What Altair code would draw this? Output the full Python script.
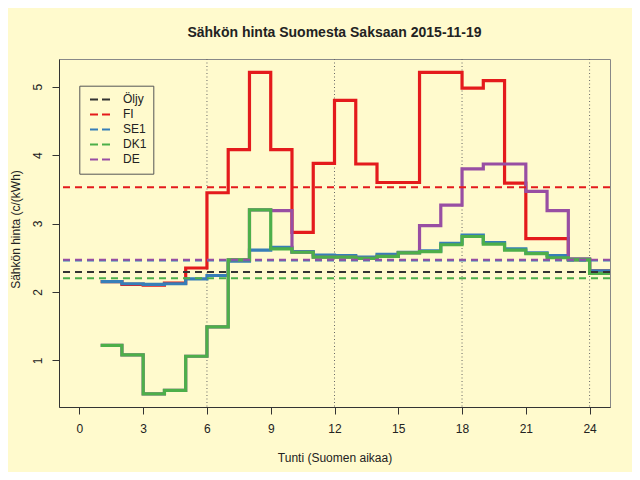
import altair as alt
import pandas as pd

# ---- data ----
hours = list(range(1, 25))
fi = [2.15, 2.11, 2.10, 2.13, 2.35, 3.45, 4.08, 5.21, 4.08, 2.87, 3.88, 4.80,
      3.87, 3.60, 3.60, 5.21, 5.21, 4.98, 5.09, 3.59, 2.78, 2.78, 2.48, 2.31]
se1 = [2.15, 2.12, 2.11, 2.12, 2.19, 2.24, 2.45, 2.61, 2.65, 2.59, 2.54, 2.53,
       2.51, 2.55, 2.58, 2.60, 2.71, 2.83, 2.72, 2.63, 2.57, 2.53, 2.48, 2.31]
dk1 = [1.22, 1.08, 0.51, 0.56, 1.06, 1.49, 2.47, 3.20, 2.63, 2.58, 2.51, 2.51,
       2.49, 2.52, 2.57, 2.59, 2.69, 2.81, 2.70, 2.61, 2.56, 2.50, 2.47, 2.27]
de = [1.22, 1.08, 0.51, 0.56, 1.06, 1.49, 2.47, 3.20, 3.19, 2.58, 2.51, 2.51,
      2.49, 2.52, 2.57, 2.97, 3.27, 3.80, 3.87, 3.87, 3.47, 3.19, 2.47, 2.27]

series_names = ["Öljy", "FI", "SE1", "DK1", "DE"]
series_colors = ["#333333", "#E41A1C", "#377EB8", "#4DAF4A", "#984EA3"]
mean_values = [2.29, 3.53, 2.46, 2.20, 2.47]

grid_hours = [6, 12, 18, 24]
x_ticks = [0, 3, 6, 9, 12, 15, 18, 21, 24]
y_ticks = [1, 2, 3, 4, 5]

title_text = "Sähkön hinta Suomesta Saksaan 2015-11-19"
x_title = "Tunti (Suomen aikaa)"
y_title = "Sähkön hinta (c/(kWh)"

# ---- tables ----
step_series = {"FI": fi, "SE1": se1, "DK1": dk1, "DE": de}
rows = []
for name, vals in step_series.items():
    for h, v in zip(hours + [hours[-1] + 1], vals + [vals[-1]]):
        rows.append({"hour": h, "price": v, "series": name})
steps = pd.DataFrame(rows)
means = pd.DataFrame({"series": series_names, "mean": mean_values})
grid = pd.DataFrame({"hour": grid_hours})

FONT = "Liberation Sans"
xscale = alt.Scale(domain=[-0.96, 24.96], nice=False, zero=False)
yscale = alt.Scale(domain=[0.318, 5.405], nice=False, zero=False)

x_axis = alt.Axis(values=x_ticks, title=x_title, tickSize=7, labelPadding=18,
                  labelBaseline="alphabetic", titleBaseline="alphabetic",
                  titleY=54, grid=False)
y_axis = alt.Axis(values=y_ticks, title=y_title, tickSize=7, labelPadding=10.5,
                  labelAngle=-90, labelAlign="center", labelBaseline="alphabetic",
                  titleBaseline="top", titleX=-49, titleY=170, grid=False)

vlines = alt.Chart(grid).mark_rule(color="#666666", strokeWidth=1, strokeDash=[1, 2.5]).encode(
    x=alt.X("hour:Q", scale=xscale, axis=x_axis)
)

color_of = dict(zip(series_names, series_colors))
draw_order = ["FI", "SE1", "DE", "DK1"]
step_layers = []
for name in draw_order:
    step_layers.append(
        alt.Chart(steps).transform_filter(alt.datum.series == name)
        .mark_line(interpolate="step-after", strokeWidth=3.2, clip=True,
                   color=color_of[name])
        .encode(x=alt.X("hour:Q", scale=xscale, axis=x_axis),
                y=alt.Y("price:Q", scale=yscale, axis=y_axis))
    )

mean_rules = alt.Chart(means).mark_rule(strokeWidth=2, strokeDash=[7, 5]).encode(
    y=alt.Y("mean:Q", scale=yscale, axis=y_axis),
    color=alt.Color("series:N",
                    scale=alt.Scale(domain=series_names, range=series_colors),
                    legend=alt.Legend(title=None, orient="none", legendX=20.3, legendY=26.7,
                                      direction="vertical", symbolType="stroke",
                                      symbolSize=400, symbolStrokeWidth=2,
                                      symbolDash=[8, 4], labelFont=FONT, labelFontSize=12,
                                      labelColor="#222222", labelOffset=12,
                                      padding=6.5, symbolOffset=3.2, rowPadding=0,
                                      clipHeight=14.4,
                                      strokeColor="#555555", fillColor="#FFFACD")),
)

chart = alt.layer(vlines, *step_layers, mean_rules).properties(
    width=551, height=348,
    padding={"left": 51, "top": 51, "right": 22, "bottom": 65},
    autosize=alt.AutoSizeParams(type="none"),
    background="#FFFACD",
    title=alt.TitleParams(title_text, font=FONT, fontSize=14, fontWeight="bold",
                          color="#222222", anchor="middle", frame="group",
                          baseline="alphabetic", offset=8),
).configure_view(stroke="#888888", strokeWidth=1).configure_axis(
    domainColor="#333333", tickColor="#333333", labelColor="#222222",
    titleColor="#222222", labelFont=FONT, titleFont=FONT, labelFontSize=12,
    titleFontSize=12, titleFontWeight="normal", domainWidth=1, tickWidth=1
)

chart.save("out.html", embed_options={"renderer": "svg", "actions": False})
